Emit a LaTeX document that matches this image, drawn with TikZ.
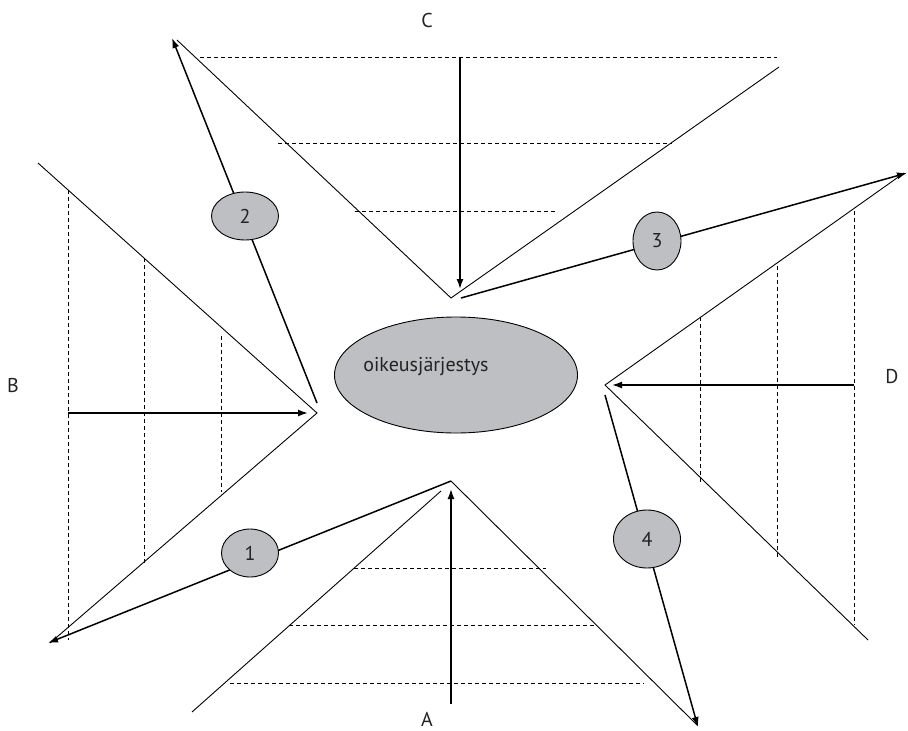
\documentclass[tikz,border=0pt]{standalone}
\usepackage{fontspec}
\setmainfont{PT Sans}
\usetikzlibrary{arrows.meta,shapes.geometric}
\definecolor{ellgray}{RGB}{190,191,194}
\definecolor{txtgray}{RGB}{35,35,35}
\begin{document}
\begin{tikzpicture}[x=1pt,y=-1pt,
  thinline/.style={line width=0.9pt},
  arrowline/.style={line width=1.5pt,-{Latex[length=10pt,width=7pt]}},
  dashline/.style={line width=0.8pt,dash pattern=on 4pt off 3pt},
  numell/.style={ellipse,draw,fill=ellgray,line width=0.9pt,inner sep=0pt,
    text=txtgray,font=\fontsize{20}{20}\selectfont},
  lbl/.style={text=txtgray,font=\fontsize{20}{20}\selectfont,inner sep=0pt}
]
\useasboundingbox (0,0) rectangle (908,731);
\fill[white] (0,0) rectangle (908,731);

% ---------- coordinates ----------
% C
\coordinate (cL) at (177,40);
\coordinate (cV) at (451,298);
\coordinate (cR) at (779,67);
\coordinate (cS) at (460,57);
\coordinate (cE) at (460,289);
% B
\coordinate (bU) at (38,163);
\coordinate (bV) at (317,413);
\coordinate (bD) at (50,643);
\coordinate (bS) at (68,413);
\coordinate (bE) at (308,413);
% A
\coordinate (aL) at (441,491);
\coordinate (aLe) at (192,712);
\coordinate (aV) at (451,481);
\coordinate (aR) at (697,725);
\coordinate (aS) at (451,704);
\coordinate (aE) at (451,489);
% D
\coordinate (dU) at (904,173);
\coordinate (dV) at (605,385);
\coordinate (dD) at (868,640);
\coordinate (dS) at (854,385);
\coordinate (dE) at (612,385);
% numbered arrows
\coordinate (s1) at (451,481);
\coordinate (t1) at (48,643);
\coordinate (s2) at (317,403);
\coordinate (t2) at (172,38);
\coordinate (s3) at (461,298);
\coordinate (t3) at (907,173);
\coordinate (s4) at (605,395);
\coordinate (t4) at (698,727);

% ---------- dashed guide lines ----------
% C
\coordinate (c1a) at (200,57);  \coordinate (c1b) at (777,57);
\coordinate (c2a) at (278,143); \coordinate (c2b) at (672,143);
\coordinate (c3a) at (355,211); \coordinate (c3b) at (555,211);
\draw[dashline] (c1a) -- (c1b);
\draw[dashline] (c2a) -- (c2b);
\draw[dashline] (c3a) -- (c3b);
% A
\coordinate (a1a) at (354,568); \coordinate (a1b) at (546,568);
\coordinate (a2a) at (289,625); \coordinate (a2b) at (595,625);
\coordinate (a3a) at (230,683); \coordinate (a3b) at (644,683);
\draw[dashline] (a1a) -- (a1b);
\draw[dashline] (a2a) -- (a2b);
\draw[dashline] (a3a) -- (a3b);
% B
\coordinate (b1a) at (68,190);  \coordinate (b1b) at (68,640);
\coordinate (b2a) at (144,258); \coordinate (b2b) at (144,565);
\coordinate (b3a) at (221,336); \coordinate (b3b) at (221,492);
\draw[dashline] (b1a) -- (b1b);
\draw[dashline] (b2a) -- (b2b);
\draw[dashline] (b3a) -- (b3b);
% D
\coordinate (d1a) at (700,317); \coordinate (d1b) at (700,482);
\coordinate (d2a) at (777,266); \coordinate (d2b) at (777,558);
\coordinate (d3a) at (854,211); \coordinate (d3b) at (854,625);
\draw[dashline] (d1a) -- (d1b);
\draw[dashline] (d2a) -- (d2b);
\draw[dashline] (d3a) -- (d3b);

% ---------- V shapes ----------
\draw[thinline] (cL) -- (cV) -- (cR);
\draw[thinline] (bU) -- (bV) -- (bD);
\draw[thinline] (aLe) -- (aL);
\draw[thinline] (aV) -- (aR);
\draw[thinline] (dU) -- (dV) -- (dD);

% ---------- inward arrows ----------
\draw[arrowline] (cS) -- (cE);
\draw[arrowline] (bS) -- (bE);
\draw[arrowline] (aS) -- (aE);
\draw[arrowline] (dS) -- (dE);

% ---------- numbered arrows ----------
\draw[arrowline] (s1) -- (t1);
\draw[arrowline] (s2) -- (t2);
\draw[arrowline] (s3) -- (t3);
\draw[arrowline] (s4) -- (t4);

\node[numell,minimum width=57pt,minimum height=48pt] (e1) at (250,553) {1};
\node[numell,minimum width=67pt,minimum height=48pt] (e2) at (245,216) {2};
\node[numell,minimum width=48pt,minimum height=58pt] (e3) at (657,241) {3};
\node[numell,minimum width=67pt,minimum height=58pt] (e4) at (647,539) {4};

% ---------- centre ----------
\node[ellipse,draw,fill=ellgray,line width=0.9pt,minimum width=243pt,minimum height=116pt] (core) at (456,375) {};
\node[lbl] (coretxt) at (426,367) {oikeusjärjestys};

% ---------- labels ----------
\node[lbl] (labC) at (427,20) {C};
\node[lbl] (labB) at (13,385) {B};
\node[lbl] (labA) at (427,719) {A};
\node[lbl] (labD) at (892,377) {D};
\end{tikzpicture}
\end{document}
